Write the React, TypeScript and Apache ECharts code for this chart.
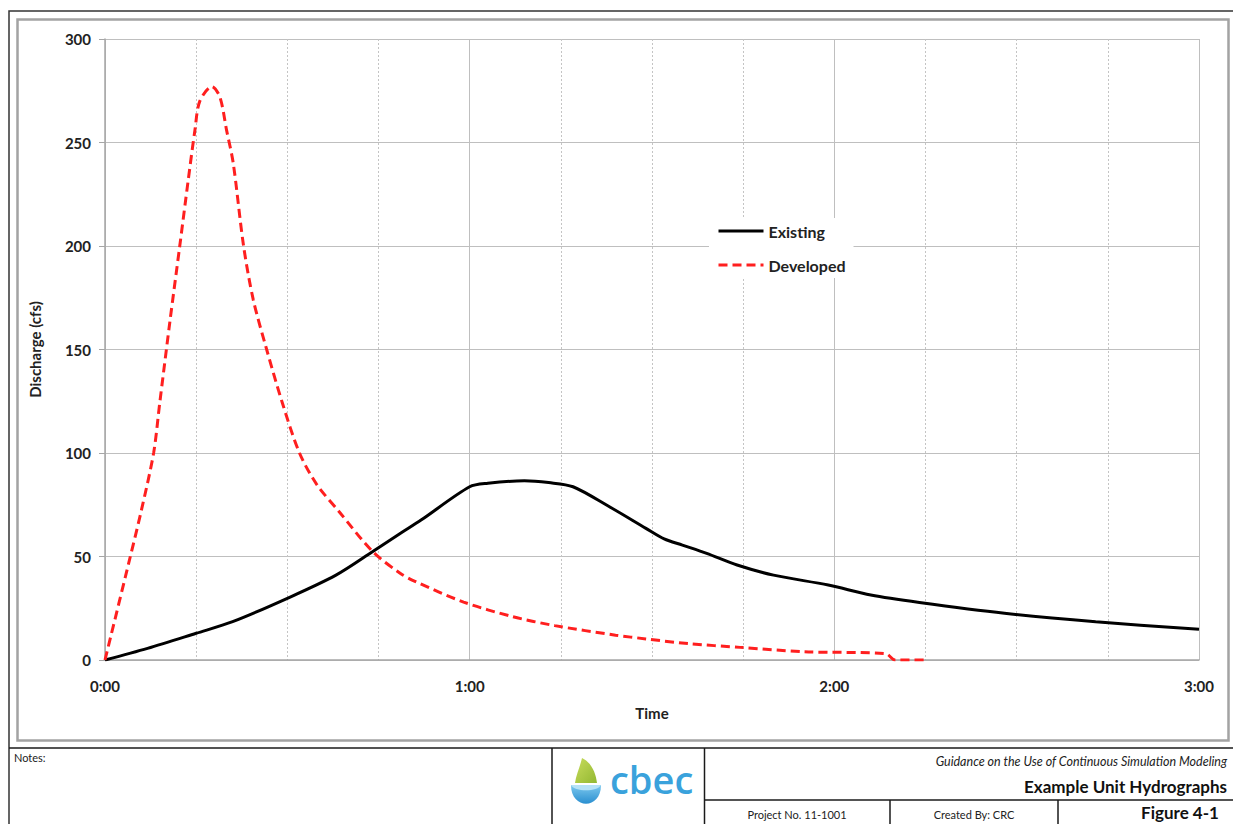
import React, { useEffect, useRef } from "react";
import * as echarts from "echarts";

// Time in minutes after start
const existingTimes = [0, 7, 15, 21, 30, 38, 44, 48.5, 52, 60, 63, 69, 73, 77, 83, 89, 92, 95, 99, 104, 110, 119, 126, 134, 148, 163, 180];
const existingFlow = [0, 5.6, 12.9, 18.5, 29.8, 41, 52.3, 61, 67.6, 83.7, 85.4, 86.6, 85.7, 83.7, 74, 63.6, 58.5, 55.5, 51.5, 45.9, 41, 36.2, 31.4, 27.8, 22.6, 18.5, 14.8];

const developedTimes = [0, 4, 6, 8, 9, 10.7, 12.3, 13.7, 14.8, 15.6, 17.6, 18.9, 20, 21.1, 22.8, 24.4, 26.6, 29.2, 32, 34.8, 38.7, 44, 48.5, 51, 59, 67, 74, 84, 89, 96, 104.5, 115, 128.5, 130, 135];
const developedFlow = [0, 48, 72.5, 100, 124, 164, 200, 232, 256, 270, 277, 272, 256, 240, 200, 174, 150, 124, 100, 85, 71, 52.5, 42, 38, 28, 21, 16.6, 12, 10.2, 7.9, 6.1, 4, 3, 0, 0];

const xTickLabels = ["0:00", "1:00", "2:00", "3:00"];
const yTicks = [0, 50, 100, 150, 200, 250, 300];
const seriesNames = ["Existing", "Developed"];

const FONT = "Lato, 'Open Sans', 'DejaVu Sans', sans-serif";

echarts.graphic.registerShape(
  "leaf",
  echarts.graphic.extendPath("M 12 3 C 10 12 6 20 5 28 L 27 28 C 26 18 21 7 12 3 Z", {})
);
echarts.graphic.registerShape(
  "bowl",
  echarts.graphic.extendPath("M 1 29 C 1 54 31 54 31 29 Z", {})
);
echarts.graphic.registerShape(
  "bowlTop",
  echarts.graphic.extendPath("M 1 29 C 4 36 28 36 31 29 Z", {})
);

export default function App() {
  const ref = useRef<HTMLDivElement>(null);
  useEffect(() => {
    if (!ref.current) return;
    const chart = echarts.init(ref.current, null, { renderer: "svg" });
    const black = "#1a1a1a";
    const line = (x1: number, y1: number, x2: number, y2: number, w = 1.5) => ({
      type: "line",
      shape: { x1, y1, x2, y2 },
      style: { stroke: black, lineWidth: w },
      silent: true,
    });
    const txt = (x: number, y: number, text: string, extra: any = {}) => ({
      type: "text",
      x,
      y,
      style: {
        text,
        fill: "#222",
        fontFamily: FONT,
        fontSize: 11,
        textVerticalAlign: "middle",
        verticalAlign: "middle",
        ...extra,
      },
      silent: true,
    });
    chart.setOption({
      animation: false,
      backgroundColor: "#ffffff",
      grid: { left: 105, right: 34, top: 39, bottom: 164, containLabel: false },
      legend: {
        orient: "vertical",
        left: 709,
        top: 218,
        itemWidth: 45,
        itemHeight: 14,
        itemGap: 18,
        padding: [5, 8, 5, 8],
        backgroundColor: "#ffffff",
        data: seriesNames,
        itemStyle: { opacity: 0 },
        lineStyle: { width: 3 },
        textStyle: { fontFamily: FONT, fontSize: 16, fontWeight: "bold", color: "#222" },
      },
      xAxis: {
        type: "value",
        min: 0,
        max: 180,
        interval: 60,
        name: "Time",
        nameLocation: "middle",
        nameGap: 45,
        nameTextStyle: { fontFamily: FONT, fontSize: 15, fontWeight: "bold", color: "#222" },
        axisLine: { show: true, lineStyle: { color: "#a6a6a6", width: 1.5 } },
        axisTick: { show: false },
        axisLabel: {
          margin: 18,
          fontFamily: FONT,
          fontSize: 15,
          fontWeight: "bold",
          color: "#222",
          formatter: (v: number) => xTickLabels[Math.round(v / 60)] ?? "",
        },
        splitLine: { show: true, lineStyle: { color: "#bfbfbf", width: 1 } },
        minorTick: { show: false, splitNumber: 4 },
        minorSplitLine: { show: true, lineStyle: { color: "#c4c4c4", width: 1, type: [2, 2] } },
      },
      yAxis: {
        type: "value",
        min: 0,
        max: 300,
        interval: 50,
        name: "Discharge (cfs)",
        nameLocation: "middle",
        nameGap: 63,
        nameTextStyle: { fontFamily: FONT, fontSize: 15, fontWeight: "bold", color: "#222" },
        axisLine: { show: true, lineStyle: { color: "#a6a6a6", width: 1.5 } },
        axisTick: { show: true, inside: false, length: 6, lineStyle: { color: "#a6a6a6" } },
        axisLabel: {
          margin: 14,
          fontFamily: FONT,
          fontSize: 15,
          fontWeight: "bold",
          color: "#222",
          formatter: (v: number) => (yTicks.includes(v) ? String(v) : ""),
        },
        splitLine: { show: true, lineStyle: { color: "#bfbfbf", width: 1 } },
      },
      series: [
        {
          name: seriesNames[0],
          type: "line",
          data: existingTimes.map((t, i) => [t, existingFlow[i]]),
          showSymbol: false,
          symbol: "none",
          smooth: 0.3,
          lineStyle: { color: "#000000", width: 3 },
          itemStyle: { color: "#000000" },
          z: 3,
        },
        {
          name: seriesNames[1],
          type: "line",
          data: developedTimes.map((t, i) => [t, developedFlow[i]]),
          showSymbol: false,
          symbol: "none",
          smooth: 0.3,
          lineStyle: { color: "#ff1f1f", width: 3, type: [9, 5] },
          itemStyle: { color: "#ff1f1f" },
          z: 4,
        },
      ],
      graphic: [
        {
          type: "rect",
          shape: { x: 9, y: 11, width: 1240, height: 830 },
          style: { fill: "none", stroke: "#333", lineWidth: 1.5 },
          silent: true,
          z: -1,
        },
        {
          type: "rect",
          shape: { x: 17.5, y: 19.5, width: 1211, height: 721 },
          style: { fill: "none", stroke: "#a3a3a3", lineWidth: 2.5 },
          silent: true,
          z: -1,
        },
        line(9, 748, 1240, 748),
        line(552, 748, 552, 830),
        line(704.5, 748, 704.5, 830),
        line(704.5, 800, 1240, 800),
        line(890, 800, 890, 830),
        line(1058, 800, 1058, 830),
        txt(14, 757, "Notes:"),
        txt(1227, 761, "Guidance on the Use of Continuous Simulation Modeling", {
          align: "right",
          textAlign: "right",
          fontStyle: "italic",
          fontSize: 12.5,
        }),
        txt(1227, 786, "Example Unit Hydrographs", {
          align: "right",
          textAlign: "right",
          fontWeight: "bold",
          fontSize: 17,
          fill: "#111",
        }),
        txt(797, 814, "Project No. 11-1001", { align: "center", textAlign: "center" }),
        txt(974, 814, "Created By: CRC", { align: "center", textAlign: "center" }),
        txt(1180, 812, "Figure 4-1", {
          align: "center",
          textAlign: "center",
          fontWeight: "bold",
          fontSize: 17,
          fill: "#111",
        }),
        {
          type: "leaf",
          x: 570,
          y: 755,
          style: {
            fill: new echarts.graphic.LinearGradient(0, 0, 1, 1, [
              { offset: 0, color: "#c8dc5c" },
              { offset: 1, color: "#93b832" },
            ]),
          },
          silent: true,
        },
        {
          type: "bowl",
          x: 570,
          y: 756,
          style: {
            fill: new echarts.graphic.LinearGradient(0, 0, 0, 1, [
              { offset: 0, color: "#7cc8ee" },
              { offset: 1, color: "#2a8fd0" },
            ]),
          },
          silent: true,
        },
        {
          type: "bowlTop",
          x: 570,
          y: 756,
          style: { fill: "#b6e2f7" },
          silent: true,
        },
        txt(610, 779, "cbec", {
          fontSize: 38,
          fill: "#3aa2dc",
          fontFamily: "'Open Sans', Lato, sans-serif",
          fontWeight: 600,
        }),
      ],
    });
    return () => chart.dispose();
  }, []);
  return (
    <div
      ref={ref}
      style={{ position: "fixed", left: 0, top: 0, width: 1233, height: 824 }}
    />
  );
}
